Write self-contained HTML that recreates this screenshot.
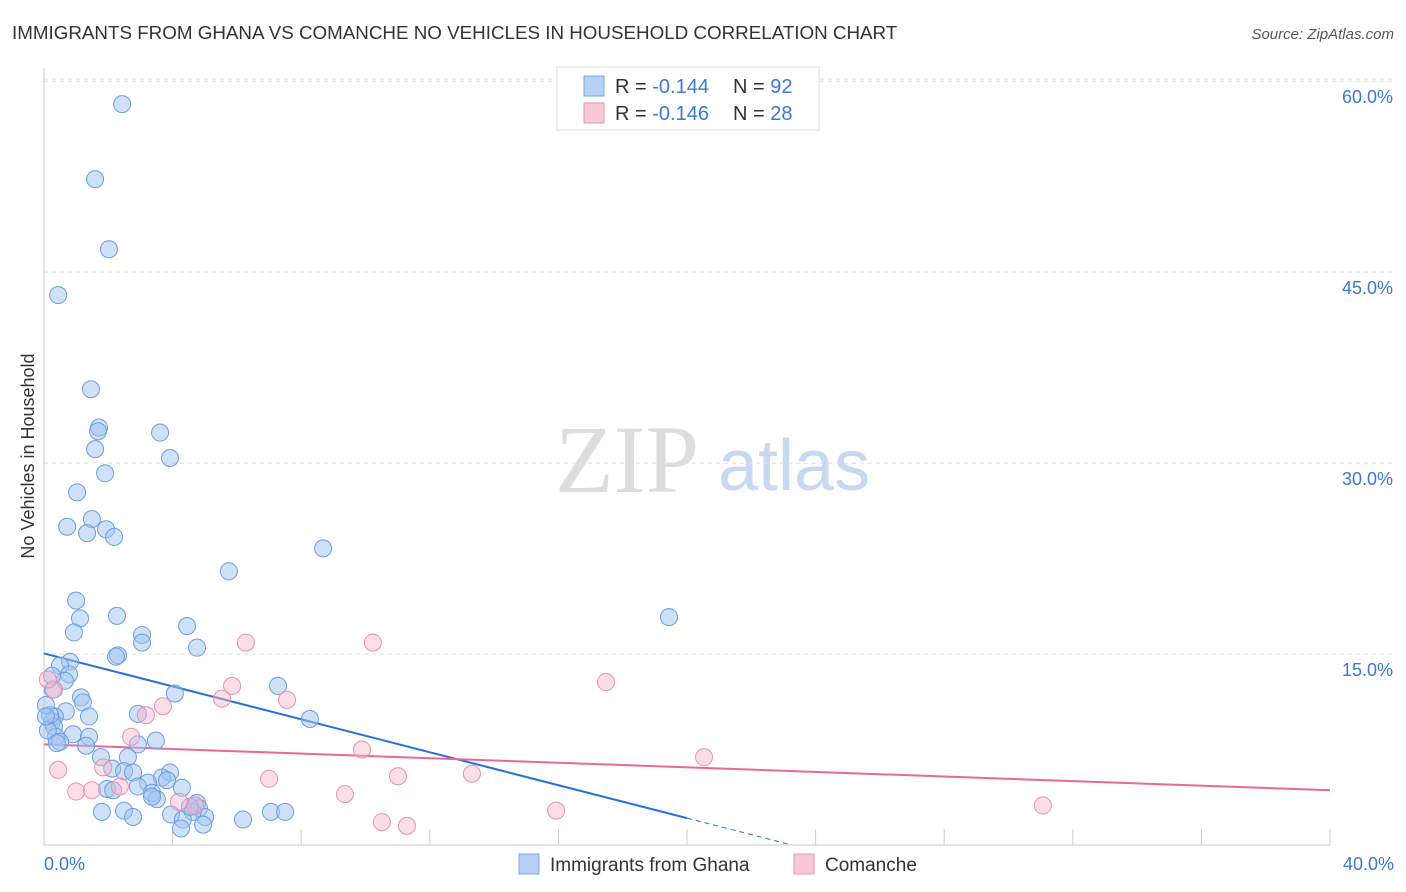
<!DOCTYPE html>
<html><head><meta charset="utf-8"><style>
body{margin:0;background:#fff;font-family:"Liberation Sans",sans-serif;}
svg{display:block}
</style></head><body>
<svg id="chart" width="1406" height="892" xmlns="http://www.w3.org/2000/svg">
<text x="12" y="39" font-size="18.8" fill="#333">IMMIGRANTS FROM GHANA VS COMANCHE NO VEHICLES IN HOUSEHOLD CORRELATION CHART</text>
<text x="1394" y="39" font-size="15" fill="#555" font-style="italic" text-anchor="end">Source: ZipAtlas.com</text>
<text transform="translate(34,456) rotate(-90)" font-size="18" fill="#333" text-anchor="middle">No Vehicles in Household</text>
<g><text x="555" y="492" font-size="96" fill="#ddd" font-family="Liberation Serif,serif">ZIP</text><text x="718" y="490" font-size="72" fill="#c8d8f0">atlas</text></g>
<g id="grid"></g><g id="ticks"></g><g id="trends"></g><g id="pts"></g>
<g>
<rect x="557" y="67" width="262" height="63" fill="#fff" stroke="#ddd"/>
<rect x="584" y="76" width="20" height="20" fill="#b8d0f4" stroke="#7aa8e4"/>
<text x="615" y="93" font-size="20" fill="#333">R = <tspan fill="#3a78d4">-0.144</tspan></text>
<text x="733" y="93" font-size="20" fill="#333">N = <tspan fill="#3a78d4">92</tspan></text>
<rect x="584" y="103" width="20" height="20" fill="#f8c8d8" stroke="#e896b4"/>
<text x="615" y="120" font-size="20" fill="#333">R = <tspan fill="#3a78d4">-0.146</tspan></text>
<text x="733" y="120" font-size="20" fill="#333">N = <tspan fill="#3a78d4">28</tspan></text>
</g>
<g>
<rect x="519" y="854" width="20" height="20" fill="#b8d0f4" stroke="#7aa8e4"/>
<text x="550" y="871" font-size="19" fill="#333">Immigrants from Ghana</text>
<rect x="794" y="854" width="20" height="20" fill="#f8c8d8" stroke="#e896b4"/>
<text x="825" y="871" font-size="19" fill="#333">Comanche</text>
</g>
</svg>
<script>
const blueX=[2.43,1.59,2.02,0.44,1.46,1.71,1.68,1.59,3.61,3.92,1.90,1.03,1.49,0.72,1.34,1.93,2.18,8.68,5.75,1.00,2.27,1.12,0.93,3.05,3.05,4.45,4.76,2.30,2.24,0.81,0.50,0.78,0.65,0.28,4.07,1.15,1.21,7.28,0.68,1.40,0.34,2.92,8.27,0.25,0.31,0.37,0.90,1.40,0.50,1.31,2.92,3.48,1.77,2.61,2.12,2.49,2.77,3.92,3.67,3.23,3.83,2.92,4.29,1.96,3.36,3.51,3.36,4.76,4.82,1.80,2.49,3.95,5.01,4.63,7.06,7.50,2.77,4.32,6.19,4.95,4.26,19.44,0.25,0.19,0.12,0.40,0.06,4.54,2.15,0.06];
const blueY=[58.2,52.3,46.8,43.2,35.8,32.8,32.5,31.1,32.4,30.4,29.2,27.7,25.6,25.0,24.5,24.8,24.2,23.3,21.5,19.2,18.0,17.8,16.7,16.5,15.9,17.2,15.5,14.9,14.8,14.4,14.1,13.4,12.9,12.2,11.9,11.6,11.2,12.5,10.5,10.1,10.1,10.3,9.9,9.7,9.3,8.5,8.7,8.5,8.1,7.8,7.9,8.2,6.9,6.9,6.0,5.8,5.7,5.7,5.3,4.9,5.1,4.6,4.5,4.4,4.1,3.6,3.8,3.3,2.9,2.6,2.7,2.4,2.2,2.6,2.6,2.6,2.2,2.0,2.0,1.6,1.3,17.9,13.3,10.2,9.0,8.0,11.0,3.0,4.3,10.1];
const pinkX=[0.31,0.44,1.00,1.49,1.84,2.36,2.71,3.17,3.70,4.20,4.70,5.54,5.85,6.28,7.00,7.56,9.36,9.89,10.23,10.51,11.01,11.29,13.31,15.93,17.48,20.53,31.07,0.12];
const pinkY=[12.2,5.9,4.2,4.3,6.1,4.6,8.5,10.2,10.9,3.4,3.1,11.5,12.5,15.9,5.2,11.4,4.0,7.5,15.9,1.8,5.4,1.5,5.6,2.7,12.8,6.9,3.1,13.0];
const yTicks=[15,30,45,60];
const yTickLabels=["15.0%","30.0%","45.0%","60.0%"];
const xTicks=[0,4,8,12,16,20,24,28,32,36,40];
const blueTrend=[15.05,-0.647];
const pinkTrend=[7.9,-0.09];
const NS="http://www.w3.org/2000/svg";
const X=v=>44+v*32.15, Y=v=>845-v*12.73;
function mk(tag,attrs,parent){const e=document.createElementNS(NS,tag);for(const k in attrs)e.setAttribute(k,attrs[k]);document.getElementById(parent).appendChild(e);return e;}
yTicks.forEach((t,i)=>{
 const l=mk('line',{x1:44,x2:1394,y1:Y(t),y2:Y(t),stroke:'#ddd','stroke-dasharray':'4,4'},'grid');
 
 
 const tx=mk('text',{x:1393,y:Y(t)+22,'font-size':18,fill:'#3a78d4','text-anchor':'end'},'ticks');
 tx.textContent=yTickLabels[i];
 
 
});
const topLine=mk('line',{x1:44,x2:1394,y1:79,y2:79,stroke:'#ddd','stroke-dasharray':'4,4'},'grid');


const ya=mk('line',{x1:44,x2:44,y1:68,y2:845,stroke:'#ccc'},'grid');


const xa=mk('line',{x1:44,x2:1330,y1:845,y2:845,stroke:'#ccc'},'grid');


xTicks.forEach(t=>{const l=mk('line',{x1:X(t),x2:X(t),y1:829,y2:845,stroke:'#ccc'},'grid');
 
 });
const xl0=mk('text',{x:44,y:870,'font-size':18,fill:'#3a78d4'},'ticks');xl0.textContent='0.0%';


const xl1=mk('text',{x:1394,y:870,'font-size':18,fill:'#3a78d4','text-anchor':'end'},'ticks');xl1.textContent='40.0%';


function drawPts(xs,ys,fill,stroke,name){xs.forEach((x,i)=>{const c=mk('circle',{cx:X(x),cy:Y(ys[i]),r:8.5,fill:fill,stroke:stroke,'stroke-width':1},'pts');
 
 });}
drawPts(blueX,blueY,'rgba(160,196,240,0.5)','#6c9de0','ghana-point');
drawPts(pinkX,pinkY,'rgba(246,182,204,0.45)','#e98fb2','comanche-point');
const bEnd=20, bZero=-blueTrend[0]/blueTrend[1];
const b1=mk('line',{x1:X(0),y1:Y(blueTrend[0]),x2:X(bEnd),y2:Y(blueTrend[0]+blueTrend[1]*bEnd),stroke:'#2a70d8','stroke-width':2},'trends');


const b2=mk('line',{x1:X(bEnd),y1:Y(blueTrend[0]+blueTrend[1]*bEnd),x2:X(bZero),y2:Y(0),stroke:'#2a70d8','stroke-width':1,'stroke-dasharray':'5,4'},'trends');


const p1=mk('line',{x1:X(0),y1:Y(pinkTrend[0]),x2:X(40),y2:Y(pinkTrend[0]+pinkTrend[1]*40),stroke:'#e8689a','stroke-width':2},'trends');


</script>
</body></html>
